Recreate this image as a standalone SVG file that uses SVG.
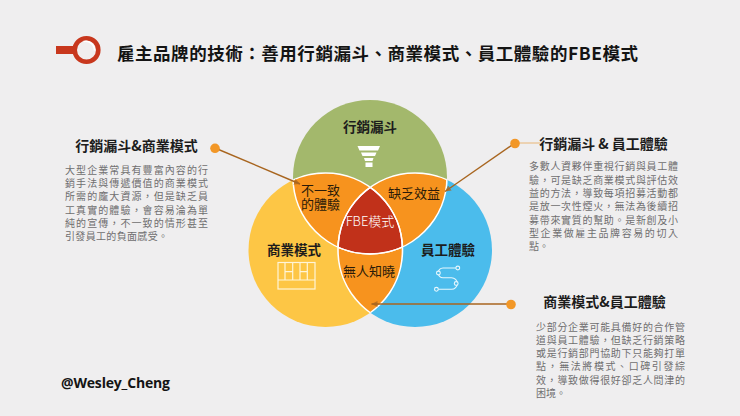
<svg xmlns="http://www.w3.org/2000/svg" width="740" height="416" viewBox="0 0 740 416">
<style>
text{font-family:"Noto Sans CJK TC","Noto Sans CJK SC","Noto Sans",sans-serif}
.h{font-size:14px;font-weight:700;fill:#1c1c1c;text-anchor:middle}
.b{font-size:10px;fill:#6f6f6f}
.v{font-size:13.500px;font-weight:700;fill:#1c1c1c;text-anchor:middle}
.l{font-size:13px;fill:#2a1a08;text-anchor:middle}
.c{stroke:#a8651f;stroke-width:1.400;fill:none}
.d{fill:#f29727}
.w{fill:none;stroke:#fff;stroke-width:1.600}
</style>
<defs>
<marker id="a" markerWidth="7" markerHeight="7" refX="6" refY="3" orient="auto" markerUnits="userSpaceOnUse"><path d="M0 0L6 3L0 6Z" fill="#a8651f" opacity=".75"/></marker>
<clipPath id="cg"><circle cx="370" cy="177" r="77"/></clipPath>
<clipPath id="cy"><circle cx="325.500" cy="250" r="77"/></clipPath>
<clipPath id="cb"><circle cx="415" cy="250" r="77"/></clipPath>
</defs>
<rect width="740" height="416" fill="#efeeef"/>
<g id="logo">
<rect x="56" y="46" width="19" height="8" fill="#c8371d"/>
<circle cx="86.500" cy="50" r="11.800" fill="#f1eeee" stroke="#c8371d" stroke-width="4.600"/>
<path d="M83.500 41.500A9 9 0 0 1 94.500 50.500" fill="none" stroke="#fff" stroke-width="1.600"/>
</g>
<text id="title" x="117" y="60" font-size="17.500" font-weight="700" fill="#141414" textLength="521">雇主品牌的技術：善用行銷漏斗、商業模式、員工體驗的FBE模式</text>
<g id="venn">
<g id="node-yellow"><circle cx="325.500" cy="250" r="77" fill="#fdc645"/></g>
<g id="node-blue"><circle cx="415" cy="250" r="77" fill="#4bbcec"/></g>
<g id="node-green"><circle cx="370" cy="177" r="77" fill="#a3b86c"/></g>
<g id="overlap-gy"><circle cx="370" cy="177" r="77" fill="#f7931e" clip-path="url(#cy)"/></g>
<g id="overlap-gb"><circle cx="370" cy="177" r="77" fill="#f7931e" clip-path="url(#cb)"/></g>
<g id="overlap-yb"><circle cx="325.500" cy="250" r="77" fill="#f7931e" clip-path="url(#cb)"/></g>
<g id="overlap-all" clip-path="url(#cg)"><circle cx="325.500" cy="250" r="77" fill="#c1311a" clip-path="url(#cb)"/></g>
<g id="outlines">
<circle class="w" cx="370" cy="177" r="77" clip-path="url(#cy)"/>
<circle class="w" cx="370" cy="177" r="77" clip-path="url(#cb)"/>
<circle class="w" cx="325.500" cy="250" r="77" clip-path="url(#cg)"/>
<circle class="w" cx="325.500" cy="250" r="77" clip-path="url(#cb)"/>
<circle class="w" cx="415" cy="250" r="77" clip-path="url(#cg)"/>
<circle class="w" cx="415" cy="250" r="77" clip-path="url(#cy)"/>
</g>
</g>
<g id="icon-funnel" fill="#fff">
<path d="M357.500 146H380L378 150.500H359.500Z"/>
<path d="M361 152.500H376.500L375 156H362.500Z"/>
<path d="M364 158H373.500L372.500 161H365Z"/>
<rect x="365.500" y="162.500" width="7" height="4.500"/>
</g>
<g id="icon-grid" fill="none" stroke="#fff5d8" stroke-width="1.200">
<rect x="278" y="262.500" width="37" height="26.500"/>
<path d="M278 280H315M285 262.500V280M292.700 262.500V280M300 262.500V280M307.300 262.500V280M285 271.700H292.700M300 271.700H307.300"/>
</g>
<g id="icon-s" fill="none" stroke="#e8f7fd" stroke-width="1.100">
<path d="M456 268H443A4.850 4.850 0 0 0 443 277.700H451.500A5.800 5.800 0 0 1 451.500 289.300H438"/>
<g fill="#4bbcec"><circle cx="457.800" cy="268" r="1.900"/><circle cx="438.400" cy="273" r="1.900"/><circle cx="456.200" cy="283.500" r="1.900"/><circle cx="436.400" cy="289.300" r="1.900"/></g>
</g>
<g id="connectors">
<path class="c" d="M215 148L300 184" marker-end="url(#a)"/>
<path class="c" d="M515 143L445 191.500" marker-end="url(#a)"/>
<path d="M515 143H540" stroke="#e9b676" stroke-width="1" fill="none"/>
<path class="c" d="M511 304H371.500" marker-end="url(#a)"/>
</g>
<g id="dots">
<circle class="d" cx="215" cy="148.300" r="4.800"/>
<circle class="d" cx="515" cy="143.500" r="4.800"/>
<circle class="d" cx="511" cy="304.500" r="4.800"/>
</g>
<g id="venn-labels">
<text class="v" x="370" y="132">行銷漏斗</text>
<text class="v" x="294" y="255">商業模式</text>
<text class="v" x="448" y="255">員工體驗</text>
<text class="l" x="320.500" y="195">不一致</text>
<text class="l" x="320.500" y="209">的體驗</text>
<text class="l" x="414" y="198">缺乏效益</text>
<text class="l" x="370" y="225.500" style="fill:#fff;font-weight:300">FBE模式</text>
<text class="l" x="369" y="275.500">無人知曉</text>
</g>
<g id="panel-left">
<text class="h" x="136.500" y="151">行銷漏斗&amp;商業模式</text>
<text class="b" x="65" y="174" textLength="143">大型企業常具有豐富內容的行</text>
<text class="b" x="65" y="187" textLength="143">銷手法與傳遞價值的商業模式</text>
<text class="b" x="65" y="200" textLength="143">所需的龐大資源，但是缺乏員</text>
<text class="b" x="65" y="213.500" textLength="143">工真實的體驗，會容易淪為單</text>
<text class="b" x="65" y="226.500" textLength="143">純的宣傳，不一致的情形甚至</text>
<text class="b" x="65" y="240" textLength="103">引發員工的負面感受。</text>
</g>
<g id="panel-right">
<text class="h" x="603.500" y="149">行銷漏斗 &amp; 員工體驗</text>
<text class="b" x="529" y="170" textLength="149">多數人資夥伴重視行銷與員工體</text>
<text class="b" x="529" y="183.500" textLength="149">驗，可是缺乏商業模式與評估效</text>
<text class="b" x="529" y="197" textLength="149">益的方法，導致每項招募活動都</text>
<text class="b" x="529" y="210" textLength="149">是放一次性煙火，無法為後續招</text>
<text class="b" x="529" y="223.500" textLength="149">募帶來實質的幫助。是新創及小</text>
<text class="b" x="529" y="237" textLength="149">型企業做雇主品牌容易的切入</text>
<text class="b" x="529" y="249.500" textLength="20">點。</text>
</g>
<g id="panel-bottom">
<text class="h" x="604.500" y="307">商業模式&amp;員工體驗</text>
<text class="b" x="536" y="331" textLength="149">少部分企業可能具備好的合作管</text>
<text class="b" x="536" y="343.500" textLength="149">道與員工體驗，但缺乏行銷策略</text>
<text class="b" x="536" y="356.500" textLength="149">或是行銷部門協助下只能夠打單</text>
<text class="b" x="536" y="370" textLength="149">點，無法將模式、口碑引發綜</text>
<text class="b" x="536" y="383.500" textLength="149">效，導致做得很好卻乏人問津的</text>
<text class="b" x="536" y="396.500" textLength="30">困境。</text>
</g>
<text id="handle" x="61" y="388" font-size="14" font-weight="700" fill="#141414" style="font-family:'Open Sans','Noto Sans',sans-serif" textLength="109">@Wesley_Cheng</text>
</svg>
